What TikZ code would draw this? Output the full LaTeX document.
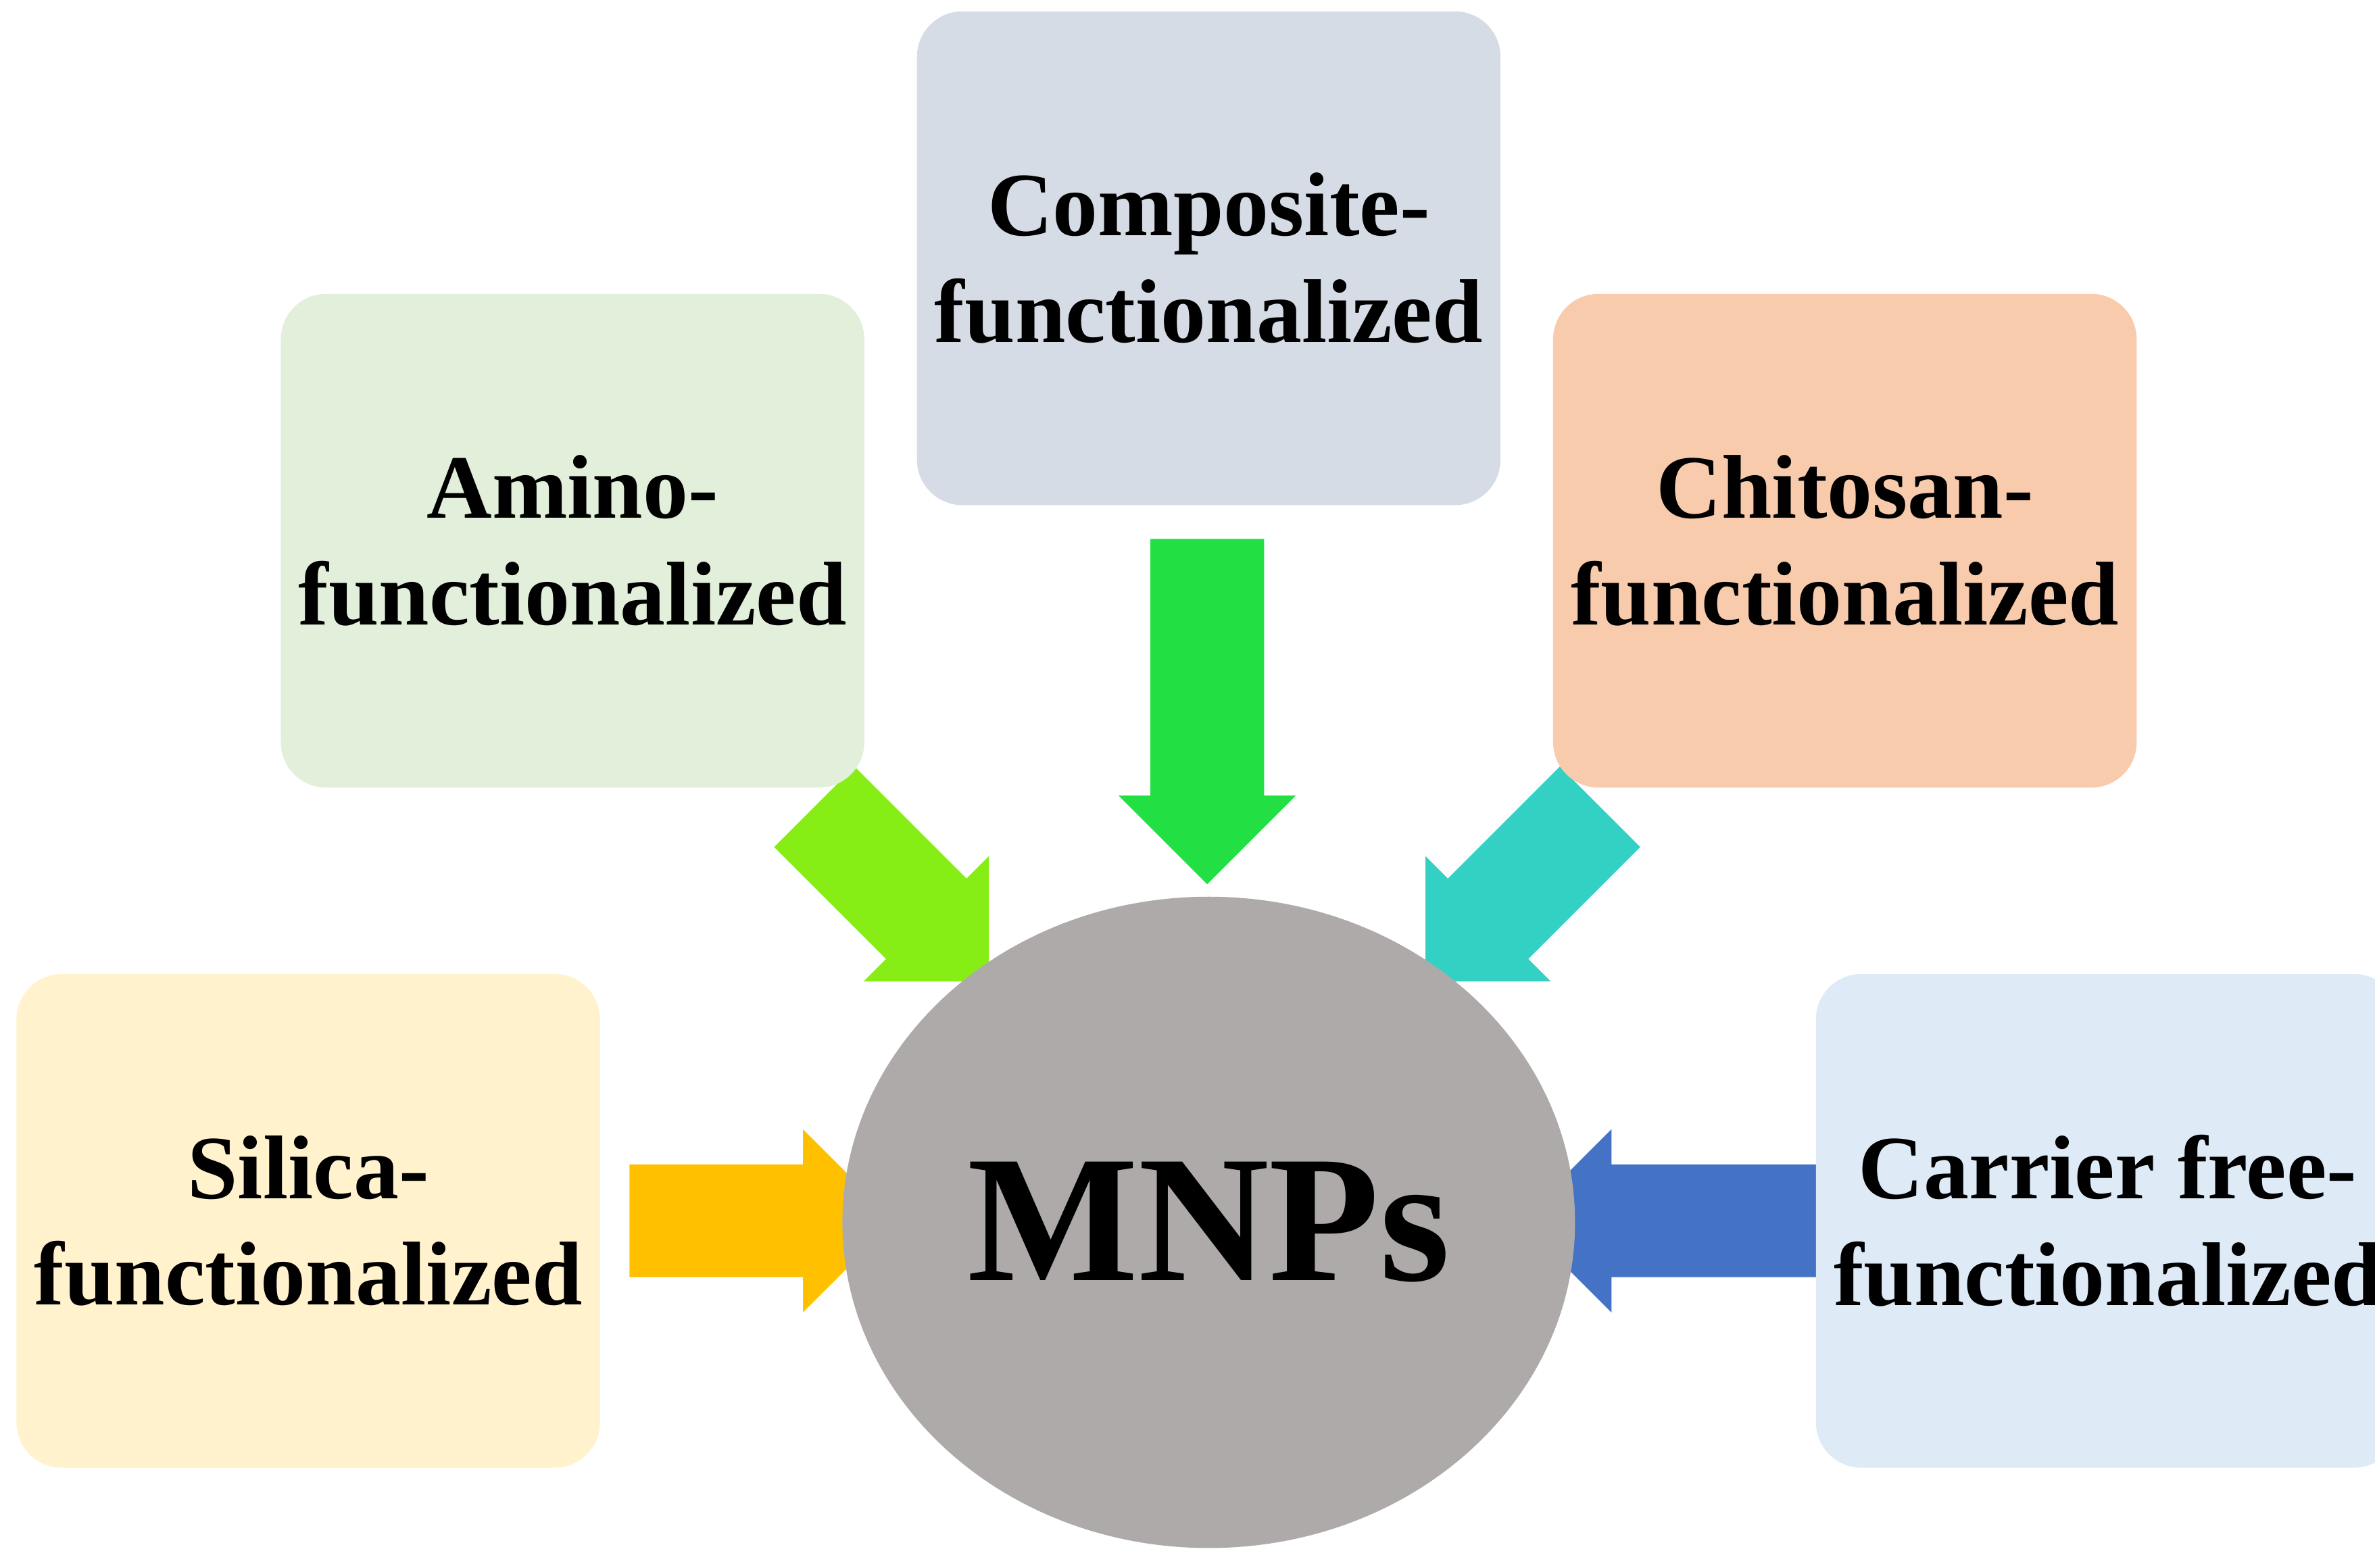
\documentclass[tikz,border=0pt]{standalone}
\usepackage{fontspec}
\setmainfont{Liberation Serif}
\usetikzlibrary{shapes.arrows,shapes.geometric}
\definecolor{compbg}{HTML}{D6DCE5}
\definecolor{aminobg}{HTML}{E2EFDA}
\definecolor{chitobg}{HTML}{F8CBAD}
\definecolor{silicabg}{HTML}{FFF2CC}
\definecolor{carrierbg}{HTML}{DEEBF7}
\definecolor{mnpbg}{HTML}{AEAAAA}
\definecolor{arramino}{HTML}{86EE14}
\definecolor{arrcomp}{HTML}{22E044}
\definecolor{arrchito}{HTML}{33D1C4}
\definecolor{arrsilica}{HTML}{FFC000}
\definecolor{arrcarrier}{HTML}{4472C4}
\begin{document}
\begin{tikzpicture}[
    box/.style={rectangle,rounded corners=0.3cm,minimum width=3.82cm,minimum height=3.26cm,
        align=center,font=\fontsize{17}{20}\selectfont\bfseries},
    arr/.style={single arrow,single arrow tip angle=90,inner xsep=0pt,inner ysep=0.36cm,
        text height=0pt,text depth=0pt,minimum width=1.17cm,single arrow head extend=0.205cm}
]
    \useasboundingbox (0,-10.348) rectangle (15.68,0);
    % arrows first
    \node[arr,fill=arrcomp,minimum height=2.28cm,rotate=-90] (acomp) at (7.97,-4.51) {};
    \node[arr,fill=arramino,minimum height=1.63cm,rotate=-45] (aamino) at (5.82,-5.77) {};
    \node[arr,fill=arrchito,minimum height=1.63cm,rotate=-135] (achito) at (10.12,-5.77) {};
    \node[arr,fill=arrsilica,minimum height=1.75cm,minimum width=1.21cm,single arrow head extend=0.23cm] (asilica) at (4.845,-8.06) {};
    \node[arr,fill=arrcarrier,minimum height=2.03cm,minimum width=1.21cm,single arrow head extend=0.23cm,rotate=180] (acarrier) at (11.235,-8.06) {};
    % boxes
    \node[box,fill=compbg] (comp) at (7.98,-1.705) {Composite-\\functionalized};
    \node[box,fill=aminobg] (amino) at (3.78,-3.57) {Amino-\\functionalized};
    \node[box,fill=chitobg] (chito) at (12.18,-3.57) {Chitosan-\\functionalized};
    \node[box,fill=silicabg] (silica) at (2.035,-8.06) {Silica-\\functionalized};
    \node[box,fill=carrierbg,minimum width=3.33cm] (carrier) at (13.915,-8.06) {Carrier free-\\functionalized};
    % centre
    \node[ellipse,fill=mnpbg,minimum width=4.0cm,minimum height=4.3cm,font=\fontsize{34}{40}\selectfont\bfseries] (mnp) at (7.98,-8.07) {MNPs};
\end{tikzpicture}
\end{document}
